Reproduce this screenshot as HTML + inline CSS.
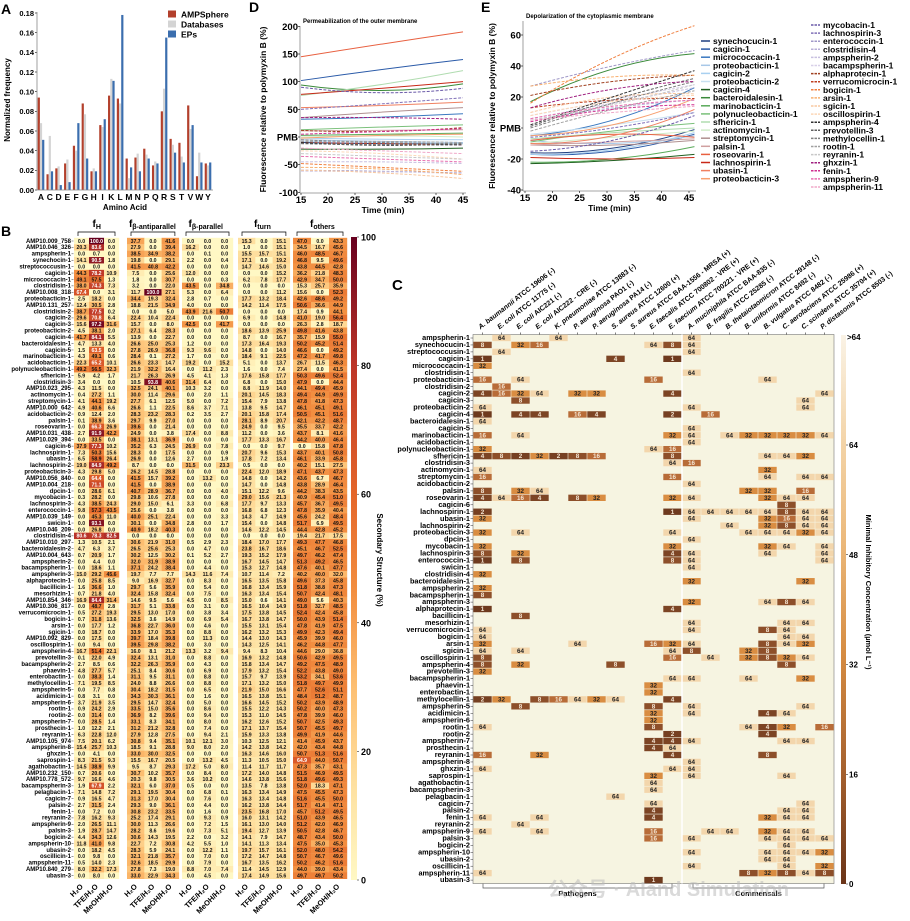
<!DOCTYPE html>
<html><head><meta charset="utf-8"><style>
html,body{margin:0;padding:0;background:#fff;}
svg{display:block;font-family:"Liberation Sans","Noto Sans CJK SC",sans-serif;}
text{font-weight:bold;}
</style></head><body>
<svg id="fig" width="910" height="921" viewBox="0 0 910 921"></svg>
<script>
// ---------- Panel A data ----------
const aaLetters=['A','C','D','E','F','G','H','I','K','L','M','N','P','Q','R','S','T','V','W','Y'];
const ampsphereVals=[.094,.016,.022,.027,.045,.088,.019,.066,.096,.093,.032,.033,.042,.025,.080,.052,.048,.086,.014,.027];
const databaseVals=[.068,.055,.024,.031,.040,.077,.022,.064,.113,.088,.012,.037,.036,.029,.103,.046,.034,.062,.038,.025];
const epVals=[.051,.019,.005,.008,.068,.032,.019,.072,.111,.178,.023,.019,.032,.027,.155,.038,.028,.066,.028,.028];
const aTicks=[0,.02,.04,.06,.08,.10,.12,.14,.16,.18];

// ---------- Panel B data ----------
const bRows=['AMP10.009_758','AMP10.046_326','ampspherin-1','synechocin-1','streptococcusin-1','cagicin-1','micrococcacin-1','clostridisin-1','AMP10.008_318','proteobacticin-1','AMP10.131_257','clostridisin-2','cagicin-2','cagicin-3','proteobacticin-2','cagicin-4','bacteroidalesin-1','cagicin-5','marinobacticin-1','acidobacticin-1','polynucleobacticin-1','sfhericin-1','clostridisin-3','AMP10.023_295','actinomycin-1','streptomycin-1','AMP10.000_642','acidobacticin-2','palsin-1','roseovarin-1','AMP10.031_438','AMP10.029_394','cagicin-6','lachnospirin-1','ubasin-1','lachnospirin-2','proteobacticin-3','AMP10.056_840','AMP10.004_218','dpcin-1','mycobacin-1','lachnospirin-3','enterococcin-1','AMP10.039_149','swicin-1','AMP10.046_209','clostridisin-4','AMP10.010_297','bacteroidalesin-2','AMP10.004_643','ampspherin-2','bacampspherin-1','ampspherin-3','alphaprotecin-1','bacillicin-1','mesorhizin-1','AMP10.854_346','AMP10.306_817','verrucomicrocin-1','bogicin-1','arsin-1','sgicin-1','AMP10.092_829','oscillospirin-1','ampspherin-4','prevotellin-3','bacampspherin-2','phaevin-1','enterobactin-1','methylocellin-1','ampspherin-5','acidimicin-1','ampspherin-6','rootin-1','rootin-2','ampspherin-7','prosthecin-1','reyranin-1','AMP10.105_974','ampspherin-8','ghxzin-1','saprospin-1','agathobactin-1','AMP10.232_150','AMP10.778_572','bacampspherin-3','pelagbacin-1','cagicin-7','palsin-2','fenin-1','reyranin-2','ampspherin-9','palsin-3','bogicin-2','ampspherin-10','ubasin-2','oscillicin-1','ampspherin-11','AMP10.840_279','ubasin-3'];
const bValues=[
"0 100 0 37.7 0 41.6 0 0 0 15.3 0 15.1 47 0 43.3",
"20.3 83.6 0 27.9 0 39.4 16.2 0 0 1 0 15.1 34.5 16.7 45.6",
"0 0.7 0 38.5 34.9 38.2 0 0.1 0 15.5 15.7 15.1 46 48.5 46.7",
"14.1 90.5 1.8 19.8 0 29.1 2.2 0 0.4 17.1 0 19.2 46.8 9.5 49.6",
"0 0 0 41.5 40.8 42.2 0 0 0 14.7 14.6 15 43.8 44.5 42.8",
"44.3 78.2 10.9 7.5 0 25.6 12 0 0 0 0 15.2 36.2 21.8 48.3",
"49.1 57.5 1.3 1.8 0 30.7 0 0 0.3 6.2 7.8 17.7 42.9 34.7 50",
"38 74.3 7.3 3.2 0 22 43.5 0 34.8 0 0 0 15.3 25.7 35.9",
"67.4 0 3.1 11.7 100 27.1 5.3 0 6.4 0 0 11.2 15.6 0 52.3",
"2.5 18.2 0 34.4 19.3 32.4 2.8 0.7 0 17.7 13.2 18.4 42.6 48.6 49.2",
"12.4 30.5 2.8 18.8 21.5 34.9 4 0 0 14.2 11.4 17.5 50.6 36.6 44.9",
"38.7 77.5 0.2 0 0 5 43.9 21.6 50.7 0 0 0 17.4 0.9 44.1",
"29.6 70.8 6.4 22.4 10.4 22.4 0 0 0 6.9 0 14.8 41 19 56.4",
"15.6 97.2 31.6 15.7 0 8 42.5 0 41.7 0 0 0 26.3 2.8 18.7",
"4.5 38.1 2 27.1 6.4 28.3 0 0 0 18.6 13.9 25.9 49.8 41.6 43.8",
"41.7 84.1 5.5 13.9 0 22.7 0 0 0 8.7 0 16.7 35.7 15.9 55",
"4.7 13.3 4 26.6 25 25.3 1.2 0 0 17.3 16.4 19.3 50.2 45.2 51.4",
"1.5 63.5 0 27.8 26.9 36.8 9.3 9.6 0 14.8 0 14 46.6 0 49.2",
"4.3 49.1 0.6 28.4 0.1 27.2 1.7 0 0 18.4 9.1 22.5 47.2 41.7 49.8",
"22.3 65.2 10.1 26.6 23.3 14.7 19.2 0 15.2 5.1 0 13.7 26.7 11.5 46.3",
"49.2 56.5 32.3 21.9 32.2 16.4 0 11.2 2.3 1.6 0 7.4 27.4 0 41.5",
"5.9 4.2 1.7 21.7 26.3 26.9 4.5 4.1 1.3 17.6 15.8 17.7 50.3 49.6 52.4",
"3.4 0 0 10.5 93.8 40.6 31.4 6.4 0 6.8 0 15 47.9 0 44.4",
"4.3 11.5 0 32.5 24.1 40.1 10.3 3.2 0 8.8 11.9 14 44.1 49.4 45.9",
"0.4 27.2 1.1 30 11.4 29.6 0 2 1.1 20.1 14.5 18.3 49.4 44.9 49.9",
"4.1 44.1 19.2 27.7 6.1 12.5 5 0 7.2 15.4 7.9 13.8 47.8 41.8 47.3",
"4.9 40.6 6.6 26.6 1.1 22.5 8.6 3.7 7.1 13.8 9.5 14.7 46.1 45.1 49.1",
"0.9 12.4 2 28.3 23.2 28.3 0.2 3.5 2.7 20.1 15.8 17.4 50.5 45.1 51.6",
"0.1 38.9 3.6 29.7 9.9 27 0 0 0 28.1 8.9 20.7 42.1 42.2 48.7",
"0 66.3 26.9 39.6 0 21.4 0 0 0 24.9 0 9.5 35.5 33.7 42.2",
"2.7 91.9 42.2 24.9 0 3.8 17.4 0 8.8 11.2 0 3.6 43.7 8.1 41.6",
"0 33.5 0 38.1 13.1 36.9 0 0 0 17.7 13.3 16.7 44.2 40 46.4",
"37.9 77.3 10.2 35.2 6.3 24.5 26.9 0 7.8 0 0 9.7 0 15.8 47.8",
"7.3 50.3 15.6 28.3 0 17.5 0 0 0.9 20.7 9.6 15.3 43.7 40.1 50.8",
"6.5 58.9 26.4 26.9 0 12.6 2.7 0 1.9 17.8 7.2 13.4 46.1 33.9 45.8",
"19 84.9 49.2 8.7 0 0 31.5 0 23.3 0.5 0 0 40.2 15.1 27.5",
"4.3 29.8 5 26.2 14.5 28.8 0 0 0 22.4 12 18.9 47.1 43.7 47.3",
"0 64.4 0 41.5 15.7 39.2 0 13.2 0 14.8 0 14.2 43.6 6.7 46.7",
"0 71.1 0 41.5 0 38.9 0 0 0 14.7 0 14.8 43.8 28.9 46.4",
"0 28.6 6.1 40.7 28.9 36.7 0 0 4 15.1 12.2 9.6 44.2 38.3 43.5",
"0.3 28.2 0 29.8 10.6 27.8 0 0 0 29 15.6 21.3 40.9 45.4 51",
"4.3 38.5 24.3 29 15 6.1 3.3 0 6.8 17.7 9.7 13.3 45.7 36.7 49.5",
"9.8 57.3 43.5 25.6 0 3.8 0 0 0 16.8 6.8 12.3 47.8 35.9 40.4",
"0 45.3 11 40 25.1 22.4 0 0 3.3 14.3 4.7 14.9 45.6 24.2 48.4",
"0 93.1 0 30.1 0 34.8 2.8 0 1.7 15.4 0 14.8 51.7 6.9 49.5",
"0 26.8 0 40.9 18.2 40.3 0 0 0 14.6 12.2 14.5 44.4 42.8 45.2",
"80.6 78.3 82.5 0 0 0 0 0 0 0 0 0 19.4 21.7 17.5",
"1.3 10.5 2.1 30.6 21.9 31 0.5 2.9 2.3 18.4 17 17.7 49.3 47.7 46.8",
"4.7 6.3 3.7 26.5 25.6 25.3 0 4.7 0 23.8 16.7 18.6 45.1 46.7 52.5",
"0.7 20.9 1.7 30.2 12.5 30.2 0.1 5.2 2.7 19.3 15.2 17.9 49.7 46.2 47.4",
"0 4.4 0 32 31.9 38.9 0 0 0 16.7 14.5 14.7 51.3 49.2 46.5",
"0 18.6 1.1 37.1 24.2 38.4 0 4.4 0 15.3 12.7 14.8 47.6 40.1 47.7",
"15 29.2 45.6 19.7 7.7 7.7 14.3 11.6 7.4 10.7 11.4 7.2 40.2 40 32",
"0 25.8 8.5 9 16.9 32.7 0 8.3 0 16.5 13.5 15.8 49.6 37.3 45.8",
"1.6 36.6 1 29.7 5.6 35.9 0 5.4 0 16.8 13.4 15.9 51.8 38.8 47.3",
"0.7 21.8 4 32.4 15.8 32.4 0 7.5 0 16.3 13.4 15.4 50.7 42.4 48.1",
"16.9 84.4 31.4 14.6 9.5 5.6 4.5 0 8.5 15 0.6 14.1 49 5.6 40.3",
"0 48.7 2.8 31.7 5.1 33.8 0 3.1 0 16.5 10.4 14.9 51.8 32.7 48.5",
"0.5 27.2 19.3 29.5 13 17 0 3.8 3.4 17.5 13.8 14.5 52.4 42.4 45.8",
"0.7 31.8 13.6 32.5 3.6 14.9 0 6.9 5.4 16.7 13.8 14.7 50 43.9 51.4",
"0 17.7 1.2 36.8 22.7 36 0 4.6 0 15.5 13.1 15.4 47.8 41.9 47.5",
"0 18.7 0 33.9 17 35.3 0 8.8 0 16.2 13.2 15.3 49.9 42.3 49.4",
"0 17.5 0 39.7 18.4 39.8 0 11.3 0 14.4 13 14.3 45.9 39.9 46",
"0 9.4 0 39.5 29.8 38.2 0 3 0 14.3 12.5 14.1 46.2 44.8 47.7",
"16.7 51.4 22.1 16 8.1 21.2 13.3 3.2 9.4 9.4 8.3 10.4 44.6 29 36.8",
"0.1 22 4.9 32.4 13.1 31 0 8.8 0 16.9 13.2 14.8 50.6 42.9 49.5",
"2.7 8.5 0.6 32.2 26.3 35.9 0 4.3 0 15.8 13.4 14.7 49.2 47.5 48.9",
"4.8 27.7 5.7 25.1 8.4 30.6 0 6.9 0 17.9 13.2 15.4 52.2 43.8 49",
"0 38.3 1.4 31.1 9.5 31.1 0 8.8 0 15.7 9.7 13.9 53.2 34.1 53.6",
"7.1 19.5 8.5 24 8.8 26.6 0 8.8 0 17.1 13.2 15 51.8 49.7 49.9",
"0 7.7 0.8 30.4 18.2 31.5 0 6.5 0 21.9 15 16.6 47.7 52.6 51.1",
"0.8 3.1 0 34.3 30.3 36.1 0 1.6 0 16.5 13.8 15.1 48.4 51.2 48.7",
"3.7 21.9 3.5 29.5 14.7 32.4 0 5 0 16.6 14.5 15.2 50.2 43.9 48.9",
"0.9 24.2 2.9 33.5 15 35.6 0 8.6 0 15.5 12.2 14.3 50.2 40 47.3",
"0 31.4 0 36.9 8.2 39.6 0 9.4 0 15.3 11 14.5 47.8 39.9 46",
"0 28.5 1.4 33.1 8.3 34.1 0 8 0 16.2 12.6 15.2 50.7 42.5 49.3",
"1 12.2 2.1 31.2 21.2 32.8 0 7.4 0 17.1 13.7 15.4 50.7 45.5 49.7",
"6.3 22.8 12 27.9 12.8 27.5 0 9.4 2.1 15.9 13.3 13.8 49.9 41.9 44.6",
"7.5 20.1 6.2 30.8 9.4 35.1 10.1 12.1 3 10.3 12.5 12.1 41.4 45.9 43.7",
"15.4 25.7 10.3 18.5 9.1 28.8 9 8 2 14.2 13.8 14.2 42 43.4 44.8",
"0 4.1 0 33 30 32.5 0 0 0 16.3 14.6 16 50.7 51.3 51.6",
"8.3 21.5 9.3 15.5 16.7 20.5 0 13.2 4.5 11.3 10.5 15 64.9 44 50.7",
"14.5 38.9 9.9 9.5 8.7 29.3 17.2 5 8 11.4 11.7 11.7 47.3 35.7 43.1",
"0.7 20.6 0 30.7 10.2 35.7 0 8.4 0 17.2 14 14.8 51.5 46.9 49.5",
"9.7 16.6 4.6 20.3 9.8 30.5 3.6 10.2 0 14.6 13.8 15.6 51.8 49.6 49.3",
"1.9 67.9 2.2 32.1 6 37 0.5 0 0 13.5 7.8 13.8 52 18.3 47.1",
"7.1 14.8 7.2 29.1 19.5 30.4 0 6.8 0.1 16.3 13.4 14.9 47.5 45.5 47.3",
"0.9 16.5 4.7 31.3 17 30.4 0 7.6 0 16.3 13.4 14.8 51.6 45.5 50",
"2.7 31.5 2.4 29.3 9 36.1 0 4.4 0 16.2 13.8 14.4 51.7 41.4 47.1",
"0 7.2 0 30.8 23.2 33.5 0 1.6 0 23.5 16.8 17 45.7 51.2 49.5",
"7.8 16.2 9.3 25.2 17.4 29.1 0 9.3 0.9 16 13.1 14.2 51 43.9 46.5",
"2 26.5 11.1 30 11.3 26.6 0 7.2 1.5 16.1 13 14 51.2 42 46.9",
"1.9 28.7 14.7 28.2 8.6 19.6 0 7.3 5.1 19.4 12.7 13.9 50.5 42.8 46.7",
"4.4 34.3 12.6 30.6 14.3 19.5 2.2 0 3.2 14.1 7.9 14.7 48.7 43.4 50",
"11.8 41 9.8 22.7 7.2 30.8 4.2 5.5 1 14.1 11.3 13.4 47.5 35 45.3",
"0 18.2 4.5 28.3 5.9 24.1 0 12.2 1.1 19.7 15.7 16.1 52 48 54.2",
"0 9.8 0 32.1 21.8 35.7 0 7 0 17.2 14.7 14.8 50.7 46.7 49.6",
"0.5 14 2.3 32.6 18.5 29.9 0 7.9 0 16.7 13.5 16.2 50.2 46.2 51.6",
"8 32.2 17.3 27.8 7.3 19 8.8 7 7.4 11.4 14.5 12.9 44 39 43.4",
"0 8 0 33 22.9 34.3 0 4.5 0 17.4 14.9 15.6 49.7 49.7 50.2"];
const bGroupNames=['H','β-antiparallel','β-parallel','turn','others'];
const bSolvents=['H₂O','TFE/H₂O','MeOH/H₂O'];
const bTicks=[0,20,40,60,80,100];

// ---------- Panel C data ----------
const cStrains=[['A. baumannii',' ATCC 19606 (-)'],['E. coli',' ATCC 11775 (-)'],['E. coli',' AIC221 (-)'],['E. coli',' AIC222 - CRE (-)'],['K. pneumoniae',' ATCC 13883 (-)'],['P. aeruginosa',' PAO1 (-)'],['P. aeruginosa',' PA14 (-)'],['S. aureus',' ATCC 12600 (+)'],['S. aureus',' ATCC BAA-1556 - MRSA (+)'],['E. faecalis',' ATCC 700802 - VRE (+)'],['E. faecium',' ATCC 700221 - VRE (+)'],['A. muciniphila',' ATCC BAA-835 (-)'],['B. fragilis',' ATCC 25285 (-)'],['B. thetaiotaomicron',' ATCC 29148 (-)'],['B. uniformis',' ATCC 8492 (-)'],['B. vulgatus',' ATCC 8482 (-)'],['C. aerofaciens',' ATCC 25986 (+)'],['C. scindens',' ATCC 35704 (+)'],['P. distasonis',' ATCC 8503 (-)']];
const cRows=['ampspherin-1','synechocucin-1','streptococcusin-1','cagicin-1','micrococcacin-1','clostridisin-1','proteobacticin-1','clostridisin-2','cagicin-2','cagicin-3','proteobacticin-2','cagicin-4','bacteroidalesin-1','cagicin-5','marinobacticin-1','acidobacticin-1','polynucleobacticin-1','sfhericin-1','clostridisin-3','actinomycin-1','streptomycin-1','acidobacticin-2','palsin-1','roseovarin-1','cagicin-6','lachnospirin-1','ubasin-1','lachnospirin-2','proteobacticin-3','dpcin-1','mycobacin-1','lachnospirin-3','enterococcin-1','swicin-1','clostridisin-4','bacteroidalesin-1','ampspherin-2','bacampspherin-1','ampspherin-3','alphaprotecin-1','bacillicin-1','mesorhizin-1','verrucomicrocin-1','bogicin-1','arsin-1','sgicin-1','oscillospirin-1','ampspherin-4','prevotellin-3','bacampspherin-1','phaevin-1','enterobactin-1','methylocellin-1','ampspherin-5','acidimicin-1','ampspherin-6','rootin-1','rootin-2','ampspherin-7','prosthecin-1','reyranin-1','ampspherin-8','ghxzin-1','saprospin-1','agathobactin-1','bacampspherin-3','pelagbacin-1','cagicin-7','palsin-2','fenin-1','reyranin-2','ampspherin-9','palsin-3','bogicin-2','ampspherin-10','ubasin-2','oscillicin-1','ampspherin-11','ubasin-3'];
// "column:MIC" pairs per row (blank = >64)
const cMic=["1:64 4:64 11:64","0:8 2:32 3:16 9:64 10:8 11:64","1:64 11:64","0:1 7:4 10:1","0:32","11:64","0:16 2:64 9:16 15:64","1:16","0:4 1:16 2:32 3:64 5:32 6:32 10:4 18:64","2:8 17:64","0:64 11:64 17:64","0:1 2:4 3:4 5:16 6:4 10:2 12:16","0:64","11:64","0:16 2:64 10:32 11:64 13:64 14:32 15:32 16:32 17:32 18:64","11:64","0:32 9:64 10:16","0:4 1:8 2:2 3:32 4:2 5:8 6:16 10:8 15:64 16:64 17:32","10:64 11:16","0:64 15:32","0:16 10:16 15:64 17:64 18:64","11:64","0:8 2:32 3:64 14:32 15:32 17:16","0:4 1:64 2:16 3:4 5:8 6:32 10:32 11:64 15:32 16:64 17:64","16:8","0:2 10:1 11:64 12:64 13:64 14:64 15:64 16:8 17:64 18:64","0:32 11:64 15:32 16:16 17:64 18:64","13:64 15:32 16:8 17:64 18:64","0:32 2:64 10:64 14:64 15:64 16:64 17:32 18:64","11:64","0:32 10:32 15:32 16:64 18:64","0:8 2:32 10:4 11:64 15:64 18:64","0:1 2:8 10:8 11:64 18:64","11:64","0:32","11:32 17:32","0:32","0:8","11:32 15:64 16:8 17:64","0:1 10:4","2:8","11:64 16:64 17:64","0:64 11:64 15:8 16:64","0:64 16:64 17:64","0:32 5:64 9:16 10:32 11:64 15:8 16:64 17:32","0:64 2:64 10:64 11:8 14:32 15:8","0:8 10:16 12:64 14:32 15:8 16:32 17:64","0:8 2:32 7:8 16:8","0:32","10:64 11:64 14:64 17:32","9:32","9:32","0:2 1:32 3:8 4:16 5:64 6:32 7:64 10:4","2:8 9:8 11:64 17:64","9:32 11:64 15:4 16:64","9:32","0:64 9:8 14:64 15:4 16:32 18:16","10:2 15:4","9:4 10:4 11:64 16:64 17:64","9:4 10:64","0:16 3:32 10:4 15:8","11:64","0:64 10:64 11:64","9:32 11:64 16:64","9:64","9:64","7:64","9:64 17:64","9:4 16:64 17:64","0:64 3:64 9:4 15:32 16:64 17:64","2:64","0:64 3:64 9:16 12:64 13:64 15:32 16:64 17:64","9:16 11:64 15:64 16:64 17:64 18:64","16:64","11:64 15:64 16:64 17:64 18:32","15:64 16:64","11:64 16:64 18:32","0:64 14:8 15:32 16:8 17:64 18:8","9:1"];
const cTicks=[0,16,32,48,64];

// ---------- Panels D/E data ----------
const seriesNames=['synechocucin-1','cagicin-1','micrococcacin-1','proteobacticin-1','cagicin-2','proteobacticin-2','cagicin-4','bacteroidalesin-1','marinobacticin-1','polynucleobacticin-1','sfhericin-1','actinomycin-1','streptomycin-1','palsin-1','roseovarin-1','lachnospirin-1','ubasin-1','proteobacticin-3','mycobacin-1','lachnospirin-3','enterococcin-1','clostridisin-4','ampspherin-2','bacampspherin-1','alphaprotecin-1','verrucomicrocin-1','bogicin-1','arsin-1','sgicin-1','oscillospirin-1','ampspherin-4','prevotellin-3','methylocellin-1','rootin-1','reyranin-1','ghxzin-1','fenin-1','ampspherin-9','ampspherin-11'];
const seriesColors=['#1f3f80','#2a5aa8','#3a78c0','#a8c8e8','#a8d0f0','#c8e0f0','#1e5e1e','#3a8a3a','#5aaa5a','#7ac07a','#b0dcb0','#d0ecc8','#b09090','#d0a0a0','#e86040','#c82818','#f08060','#f8a070','#6a5aa8','#8070b8','#a098c8','#b8b0d8','#c8c0e0','#d8d0e8','#a04020','#c04020','#f08040','#f8b070','#f8c8a0','#fcd8b8','#303030','#606060','#808080','#a0a0a0','#c8c8c8','#a02080','#d03090','#e870b0','#f0a8c8'];
const dStart=[-10,102,32,-5,-2,-8,-22,94,3,13,75,0,35,11,145,77,53,-2,90,50,-60,-8,-45,-62,12,-10,-48,-55,-60,-25,-10,-12,-5,-8,-30,35,5,-35,-20];
const dMid=[-12,122,36,-8,-4,-10,-22,84,5,18,95,2,45,12,168,88,57,3,80,60,-62,-12,-45,-63,10,-12,-55,-58,-65,-30,-15,-14,-10,-8,-35,35,10,-40,-25];
const dEnd=[-12,140,42,-10,-5,-12,-20,96,7,22,120,0,53,13,190,100,63,5,88,71,-65,-15,-48,-66,17,-14,-62,-68,-75,-40,-12,-14,-12,-10,-40,32,15,-45,-30];
const eStart=[-16,-17,-5,-8,-17,-4,-23,17,-22,-9,-7,-10,-11,-11,-8,-19,-10,-5,-15,-6,27,5,6,8,21,13,16,27,10,8,2,1,0,-2,5,13,4,6,5];
const eMid=[-13,-15,5,-10,-14,2,-21,38,-20,-2,-3,-6,-11,-9,-4,-20,-5,2,-8,0,40,13,16,18,30,18,45,33,20,17,20,18,16,12,15,25,12,14,10];
const eEnd=[-1,-4,26,-5,-3,10,-17,48,-12,3,0,-2,-8,-7,-6,-19,12,19,8,10,50,18,26,28,34,19,66,34,22,21,37,32,30,24,28,30,15,18,14];
const dTicks=[-100,-50,0,50,100,150,200];
const eTicks=[-40,-20,0,20,40,60];
const timeTicks=[15,20,25,30,35,40,45];

const NS='http://www.w3.org/2000/svg';
const svg=document.getElementById('fig');
function mk(tag,attrs,parent){const e=document.createElementNS(NS,tag);for(const k in attrs)e.setAttribute(k,attrs[k]);(parent||svg).appendChild(e);return e;}
function tx(str,attrs,parent){const e=mk('text',attrs,parent);e.textContent=str;return e;}
function hex(c){return [parseInt(c.slice(1,3),16),parseInt(c.slice(3,5),16),parseInt(c.slice(5,7),16)];}
function interp(stops,v){for(let i=1;i<stops.length;i++){if(v<=stops[i][0]){const a=stops[i-1],b=stops[i];const t=(v-a[0])/(b[0]-a[0]);const ca=hex(a[1]),cb=hex(b[1]);return 'rgb('+ca.map((x,j)=>Math.round(x+(cb[j]-x)*t)).join(',')+')';}}return stops[stops.length-1][1];}

// ================= Panel A =================
const gA=mk('g',{});


let e=tx('A',{x:1,y:14,'font-size':14},gA);


const yA=v=>190-v/0.18*177;
const xA=i=>41+i*8.79;
aTicks.forEach(t=>{
  const l=tx(t.toFixed(2),{x:34,y:yA(t)+2.8,'font-size':7.5,'text-anchor':'end'},gA);
  
  
  mk('line',{x1:35,x2:37,y1:yA(t),y2:yA(t),stroke:'#000','stroke-width':.6},gA);
});
const seriesA=[[ampsphereVals,'#b3402c',-3.3],[databaseVals,'#d4d4d4',-1.1],[epVals,'#3b6eae',1.1]];
aaLetters.forEach((a,i)=>{
  seriesA.forEach(([vals,col,off])=>{
    const r=mk('rect',{x:xA(i)+off,y:yA(vals[i]),width:2.2,height:190-yA(vals[i]),fill:col},gA);
    
    
  });
  const l=tx(a,{x:xA(i),y:200,'font-size':8.5,'text-anchor':'middle'},gA);
  
  
});
mk('line',{x1:37,x2:37,y1:12,y2:190,stroke:'#888','stroke-width':.8},gA);
mk('line',{x1:37,x2:213,y1:190,y2:190,stroke:'#888','stroke-width':.8},gA);
e=tx('Amino Acid',{x:125,y:210,'font-size':8,'text-anchor':'middle'},gA);


e=tx('Normalized frequency',{x:0,y:0,'font-size':8,'text-anchor':'middle',transform:'translate(10,100) rotate(-90)'},gA);


[['AMPSphere','#b3402c'],['Databases','#d4d4d4'],['EPs','#3b6eae']].forEach(([n,c],i)=>{
  const lg=mk('g',{},gA);
  
  
  mk('rect',{x:168,y:10.5+i*10,width:8,height:7,fill:c},lg);
  tx(n,{x:181,y:17.5+i*10,'font-size':8.5},lg);
});

// ================= Panel B =================
const gB=mk('g',{});


e=tx('B',{x:1,y:236,'font-size':14},gB);


const bStops=[[0,'#fff8c4'],[15,'#fee0a0'],[30,'#fdbf72'],[45,'#f28e40'],[60,'#e4662a'],[80,'#bc3528'],[100,'#67001f']];
const gX=[74,127,182,238,293], gW=[15,17.3,17,17.3,18];
const rowH=6.41, bTop=237.8;
const yB=i=>bTop+i*rowH;
bRows.forEach((name,i)=>{
  const vals=bValues[i].split(' ').map(Number);
  const l=tx(name,{x:71,y:yB(i)+5,'font-size':6,'text-anchor':'end'},gB);
  
  
  mk('line',{x1:71.5,x2:73.5,y1:yB(i)+3.2,y2:yB(i)+3.2,stroke:'#000','stroke-width':.4},gB);
  vals.forEach((v,j)=>{
    const g=Math.floor(j/3),k=j%3;
    const x=gX[g]+k*gW[g];
    const c=mk('rect',{x:x,y:yB(i),width:gW[g]+.2,height:rowH+.2,fill:interp(bStops,v)},gB);
    
    
    const t=tx(v.toFixed(1),{x:x+gW[g]/2,y:yB(i)+5,'font-size':5.2,'text-anchor':'middle',fill:v>62?'#fff':'#111'},gB);
    
    
  });
});
gX.forEach((x,g)=>{
  const w=gW[g]*3, cx=x+w/2;
  const h=mk('g',{},gB);
  
  
  const t=tx('f',{x:cx-8,y:227,'font-size':10},h);
  const sub=mk('tspan',{'font-size':7,dy:2},t); sub.textContent=bGroupNames[g];
  if(g===0){t.setAttribute('x',cx-4);}
  else if(g===1){t.setAttribute('x',cx-24);}
  else if(g===2){t.setAttribute('x',cx-19);}
  else {t.setAttribute('x',cx-10);}
  mk('path',{d:`M${x+4} 236 V232 H${x+w-4} V236`,fill:'none',stroke:'#000','stroke-width':.7},h);
  bSolvents.forEach((s,k)=>{
    const sx=x+k*gW[g]+gW[g]/2+2;
    const l=tx(s,{x:0,y:0,'font-size':7.5,'text-anchor':'end',transform:`translate(${sx},887) rotate(-45)`},gB);
    
    
  });
});
// colorbar B
const defs=mk('defs',{});
const lgB=mk('linearGradient',{id:'gradB',x1:0,y1:1,x2:0,y2:0},defs);
bStops.forEach(([v,c])=>mk('stop',{offset:v+'%','stop-color':c},lgB));
const cbB=mk('rect',{x:351,y:237,width:6,height:643,fill:'url(#gradB)'},gB);


bTicks.forEach(t=>{
  const y=880-t/100*643;
  mk('line',{x1:357,x2:359,y1:y,y2:y,stroke:'#000','stroke-width':.5},gB);
  const l=tx(String(t),{x:361,y:y+3.5,'font-size':9},gB);
  
  
});
e=tx('Secondary Structure (%)',{x:0,y:0,'font-size':8,'text-anchor':'middle',transform:'translate(377,560) rotate(90)'},gB);



// ================= Panel C =================
const gC=mk('g',{});


e=tx('C',{x:392,y:290,'font-size':15},gC);


const cX0=473,cW=19,cY0=334.5,cH=6.95;
const xC=j=>cX0+j*cW;
const yC=i=>cY0+i*cH;
const bg=mk('rect',{x:cX0,y:cY0,width:cW*19,height:cH*79,fill:'#f6f4e1',stroke:'#777','stroke-width':.6},gC);


const micCol={64:'#f3d6ac',32:'#d98d42',16:'#b86c38',8:'#8d4f2a',4:'#7c4424',2:'#764022',1:'#6e3a1e'};
cStrains.forEach((s,j)=>{
  mk('line',{x1:xC(j)+cW/2,x2:xC(j)+cW/2,y1:cY0-2,y2:cY0,stroke:'#000','stroke-width':.5},gC);
  const t=tx('',{x:0,y:0,'font-size':7,transform:`translate(${xC(j)+cW/2-2},${cY0-5}) rotate(-38)`},gC);
  
  
  const a=mk('tspan',{'font-style':'italic'},t); a.textContent=s[0];
  const b=mk('tspan',{},t); b.textContent=s[1];
});
cRows.forEach((name,i)=>{
  const l=tx(name,{x:470,y:yC(i)+5.6,'font-size':7.3,'text-anchor':'end'},gC);
  
  
  mk('line',{x1:470.5,x2:473,y1:yC(i)+3.5,y2:yC(i)+3.5,stroke:'#000','stroke-width':.4},gC);
  cMic[i].split(' ').filter(Boolean).forEach(p=>{
    const [j,v]=p.split(':').map(Number);
    const r=mk('rect',{x:xC(j)+.3,y:yC(i)+.3,width:cW-.6,height:cH-.6,fill:micCol[v]},gC);
    
    
    const t=tx(String(v),{x:xC(j)+cW/2,y:yC(i)+5.5,'font-size':6.3,'text-anchor':'middle',fill:v>=32?'#222':'#f4e6d4'},gC);
    
    
  });
});
mk('line',{x1:682,x2:682,y1:cY0,y2:cY0+cH*79,stroke:'#fff','stroke-width':1.5},gC);
// group brackets
[['Pathogens',483,672],['Commensals',693,824]].forEach(([n,x1,x2])=>{
  const g=mk('g',{},gC);
  
  
  mk('path',{d:`M${x1} 883.5 V888 H${x2} V883.5`,fill:'none',stroke:'#555','stroke-width':.7},g);
  tx(n,{x:(x1+x2)/2,y:896,'font-size':7.5,'text-anchor':'middle'},g);
});
// colorbar C
const lgC=mk('linearGradient',{id:'gradC',x1:0,y1:1,x2:0,y2:0},defs);
[[0,'#6a3418'],[20,'#a4602e'],[42,'#d68c42'],[62,'#ebb87a'],[80,'#f3d3a6'],[100,'#faf3e6']].forEach(([o,c])=>mk('stop',{offset:o+'%','stop-color':c},lgC));
const cbC=mk('rect',{x:841,y:335,width:5,height:549,fill:'url(#gradC)'},gC);


const yCb=v=>884-v/64*439;
cTicks.forEach(t=>{
  mk('line',{x1:846,x2:848,y1:yCb(t),y2:yCb(t),stroke:'#000','stroke-width':.5},gC);
  const l=tx(String(t),{x:849,y:yCb(t)+3,'font-size':8},gC);
  
  
});
e=tx('>64',{x:847,y:340,'font-size':8},gC);


e=tx('Minimal Inhibitory Concentration (µmol L⁻¹)',{x:0,y:0,'font-size':7.5,'text-anchor':'middle',transform:'translate(866,592) rotate(90)'},gC);



// ================= Panels D & E (line charts) =================
function lineChart(name,label,title,ticks,tickFmt,xMap,yMap,starts,mids,ends,t0,t1,axis){
  const g=mk('g',{});
  
  
  let t=tx(label,{x:axis.lx,y:12,'font-size':14},g);
  
  
  t=tx(title,{x:axis.x0+3,y:axis.ty,'font-size':6},g);
  
  
  seriesNames.forEach((s,i)=>{
    const tm=(t0+t1)/2;
    const x0=xMap(t0),x1=xMap(t1),xm=xMap(tm);
    const y0=yMap(starts[i]),ym=yMap(mids[i]),y1=yMap(ends[i]);
    const cx=2*xm-(x0+x1)/2, cy=2*ym-(y0+y1)/2;
    const p=mk('path',{d:`M${x0} ${y0} Q${cx} ${cy} ${x1} ${y1}`,fill:'none',stroke:seriesColors[i],'stroke-width':1,'stroke-dasharray':i>=18?'3,1.5':'none'},g);
    
    
  });
  mk('line',{x1:axis.x0,x2:axis.x0,y1:axis.ytop,y2:axis.yb,stroke:'#888','stroke-width':.8},g);
  mk('line',{x1:axis.x0,x2:axis.xr,y1:axis.yb,y2:axis.yb,stroke:'#888','stroke-width':.8},g);
  ticks.forEach(v=>{
    mk('line',{x1:axis.x0-2,x2:axis.x0,y1:yMap(v),y2:yMap(v),stroke:'#000','stroke-width':.6},g);
    const l=tx(tickFmt(v),{x:axis.x0-2,y:yMap(v)+3.5,'font-size':9.5,'text-anchor':'end'},g);
    
    
  });
  timeTicks.forEach(v=>{
    mk('line',{x1:xMap(v),x2:xMap(v),y1:axis.yb,y2:axis.yb+2,stroke:'#000','stroke-width':.6},g);
    const l=tx(String(v),{x:xMap(v),y:axis.yb+10,'font-size':9.5,'text-anchor':'middle'},g);
    
    
  });
  t=tx('Time (min)',{x:(axis.x0+axis.xr)/2,y:axis.yb+20,'font-size':8.5,'text-anchor':'middle'},g);
  
  
  t=tx('Fluorescence relative to polymyxin B (%)',{x:0,y:0,'font-size':8.5,'text-anchor':'middle',transform:`translate(${axis.yl},${(axis.ytop+axis.yb)/2}) rotate(-90)`},g);
  
  
  return g;
}
const xD=t=>301+(t-15)/30*162;
const yD=v=>137-v*166/300;
lineChart('panel-d-outer-membrane','D','Permeabilization of the outer membrane',dTicks,v=>v===0?'PMB':String(v),xD,yD,dStart,dMid,dEnd,15,45,{lx:249,x0:300,xr:466,ytop:26,yb:193,ty:23,yl:266});
const xE=t=>525+(t-15)/30*164;
const yE=v=>128-v*1.55;
const gE=lineChart('panel-e-cytoplasmic-membrane','E','Depolarization of the cytoplasmic membrane',eTicks,v=>v===0?'PMB':String(v),xE,yE,eStart,eMid,eEnd,16,46,{lx:481,x0:523,xr:696,ytop:21,yb:191,ty:18,yl:495});
// legend E
seriesNames.forEach((s,i)=>{
  const col=i<18?0:1, k=i<18?i:i-18;
  const x=col?813:703, y=(col?25:41)+k*8.1;
  const lg=mk('g',{},gE);
  
  
  mk('line',{x1:x-2,x2:x+7,y1:y,y2:y,stroke:seriesColors[i],'stroke-width':1.5,'stroke-dasharray':col?'2.5,1':'none'},lg);
  tx(s,{x:x+10,y:y+3,'font-size':8.5},lg);
});

// watermark
e=tx('公众号 · AIand Simulation',{x:548,y:896,'font-size':20,fill:'#bbb','fill-opacity':.55,'font-weight':'normal'});


</script>
</body></html>
